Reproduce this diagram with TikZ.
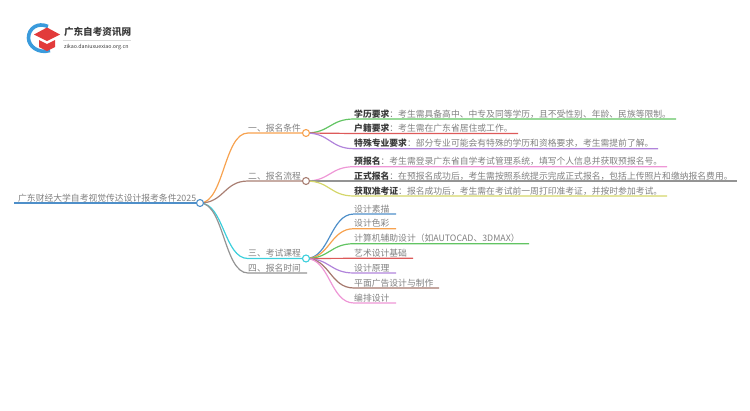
\documentclass[tikz,border=0pt]{standalone}
\usepackage{fontspec}
\setmainfont{Noto Sans CJK SC}
\definecolor{tx}{HTML}{808080}
\definecolor{bd}{HTML}{3A3A3A}
\definecolor{cblue}{HTML}{4E8FC9}
\definecolor{corange}{HTML}{F7A24F}
\definecolor{cbrown}{HTML}{A97F73}
\definecolor{ccyan}{HTML}{3CCFDC}
\definecolor{cgray}{HTML}{949494}
\definecolor{cgreen}{HTML}{62C463}
\definecolor{cred}{HTML}{DD5A5A}
\definecolor{cpurple}{HTML}{B184DB}
\definecolor{cpink}{HTML}{EE97D6}
\definecolor{cyellow}{HTML}{D4D66A}
\definecolor{cbrown2}{HTML}{A5776C}
\definecolor{logored}{HTML}{E23B3B}
\definecolor{logoblue}{HTML}{3A9BDC}
\tikzset{x=1pt,y=-1pt,
 lab/.style={inner sep=0pt,anchor=base west,text=tx,font=\fontsize{8.8}{10}\selectfont},
 dot/.style={circle,draw,fill=white,line width=1.1pt,minimum size=7pt,inner sep=0pt},
 lk/.style={line width=1.2pt},
 pt/.style={inner sep=0,outer sep=0,minimum size=0pt}}
\newcommand{\cv}[4]{\draw[lk,#1] (#2) .. controls ($(#2)!.5!(#2 -| #3)$) and ($(#3)!.5!(#3 -| #2)$) .. (#3) -- (#4);}
\usetikzlibrary{calc}
\begin{document}
\begin{tikzpicture}
\useasboundingbox (0,0) rectangle (750,410);
% logo
\draw[line width=3.6pt,color=logoblue] (48,26.5) .. controls (38,22) and (28.5,28) .. (28.5,38) .. controls (28.5,46) and (38,54) .. (50,50.5);
\fill[color=logored] (34,34.5) -- (47,27.5) -- (60,34.5) -- (47,41) -- cycle;
\fill[color=logored] (39,40) -- (47,44) -- (55,40) -- (55,47) -- (47,51) -- (39,47) -- cycle;
\node[pt,anchor=base west,text=bd,font=\fontsize{9.6}{10}\selectfont\bfseries] (logot) at (64,35) {广东自考资讯网};
\draw[black!15,line width=.4pt] (63,40) -- (131,40);
\node[pt,anchor=base west,text=bd,font=\fontsize{5.3}{6}\selectfont] (logos) at (64,48) {zikao.daniuxuexiao.org.cn};
% coordinates
\coordinate (r) at (200,203);
\coordinate (r0) at (14,203);
\coordinate (a) at (306,133);\coordinate (b) at (306,181);\coordinate (c) at (306,258.5);
\coordinate (d) at (248,273);\coordinate (d2) at (307,273);
\coordinate (ae) at (248,133);\coordinate (be) at (248,181);\coordinate (ce) at (248,258.5);
\draw[lk,cblue] (r0) -- (r);
\cv{corange}{r}{ae}{a}
\cv{cbrown}{r}{be}{b}
\cv{ccyan}{r}{ce}{c}
\cv{cgray}{r}{d}{d2}
% leaves
\foreach \n/\y/\xe/\col/\src in {
 a1/119/676/cgreen/a,a2/133.5/518/cred/a,a3/148.7/658/cpurple/a,
 b1/166.7/667/cpink/b,b2/181/737/cgray/b,b3/196/667/cyellow/b,
 c1/214/396/cblue/c,c2/228.7/396/corange/c,c3/243.7/529/cgreen/c,c4/258.3/413/cred/c,
 c5/273/396/cpurple/c,c6/288/439/cbrown2/c,c7/303/396/cpink/c}{
 \coordinate (\n s) at (354,\y);
 \coordinate (\n e) at (\xe,\y);
 \cv{\col}{\src}{\n s}{\n e}
}
\node[dot,draw=cblue] (R) at (r) {};
\node[dot,draw=corange] (A) at (a) {};
\node[dot,draw=cbrown] (B) at (b) {};
\node[dot,draw=ccyan] (C) at (c) {};
% labels
\node[lab] (t0) at (18,201) {广东财经大学自考视觉传达设计报考条件2025};
\node[lab] (t1) at (248,131) {一、报名条件};
\node[lab] (t2) at (248,179) {二、报名流程};
\node[lab] (t3) at (248,256.5) {三、考试课程};
\node[lab] (t4) at (248,271) {四、报名时间};
\newcommand{\bb}[1]{\textcolor{bd}{\bfseries #1}}
\node[lab] (l1) at (354,117) {\bb{学历要求}：考生需具备高中、中专及同等学历，且不受性别、年龄、民族等限制。};
\node[lab] (l2) at (354,131.5) {\bb{户籍要求}：考生需在广东省居住或工作。};
\node[lab] (l3) at (354,146.7) {\bb{特殊专业要求}：部分专业可能会有特殊的学历和资格要求，考生需提前了解。};
\node[lab] (l4) at (354,164.7) {\bb{预报名}：考生需登录广东省自学考试管理系统，填写个人信息并获取预报名号。};
\node[lab] (l5) at (354,179) {\bb{正式报名}：在预报名成功后，考生需按照系统提示完成正式报名，包括上传照片和缴纳报名费用。};
\node[lab] (l6) at (354,194) {\bb{获取准考证}：报名成功后，考生需在考试前一周打印准考证，并按时参加考试。};
\node[lab] (m1) at (354,212) {设计素描};
\node[lab] (m2) at (354,226.7) {设计色彩};
\node[lab] (m3) at (354,241.7) {计算机辅助设计（如AUTOCAD、3DMAX）};
\node[lab] (m4) at (354,256.3) {艺术设计基础};
\node[lab] (m5) at (354,271) {设计原理};
\node[lab] (m6) at (354,286) {平面广告设计与制作};
\node[lab] (m7) at (354,301) {编排设计};
\end{tikzpicture}
\end{document}
